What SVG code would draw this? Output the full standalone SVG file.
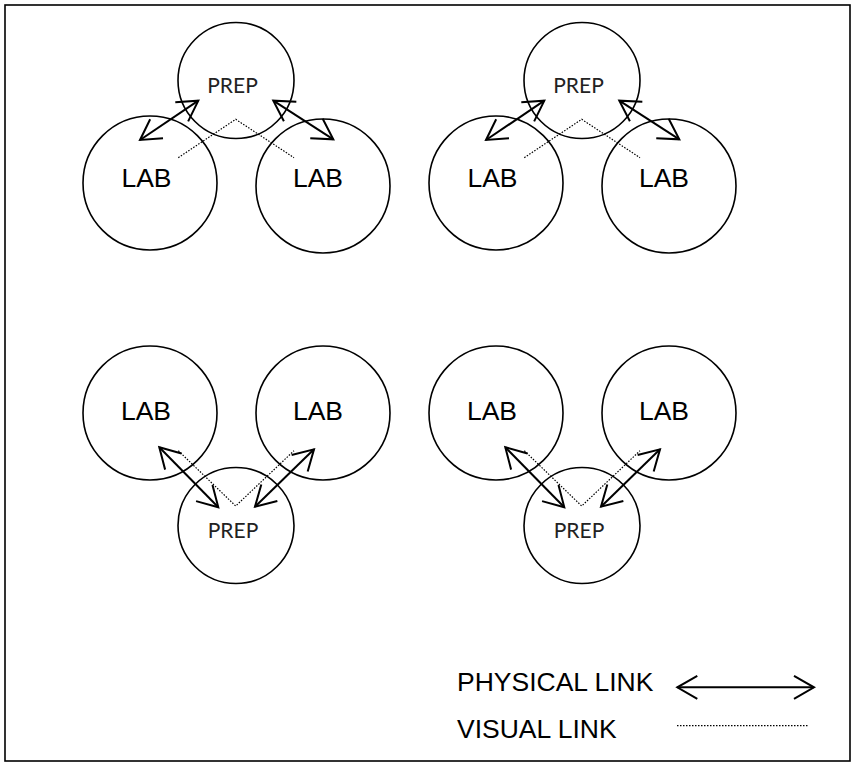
<svg xmlns="http://www.w3.org/2000/svg" width="854" height="765" viewBox="0 0 854 765">
<style>
.node{fill:none;stroke:#000;stroke-width:1.6}
.lab{font-family:"Liberation Sans",Arial,sans-serif;font-size:26.5px;fill:#000;text-anchor:middle}
.prep{font-family:Lato,"Open Sans",sans-serif;font-size:21px;fill:#222;text-anchor:middle}
.leg{font-family:"Liberation Sans",Arial,sans-serif;font-size:26.5px;fill:#000}
.phys{fill:none;stroke:#000;stroke-width:2;marker-start:url(#ah);marker-end:url(#ah)}
.vis{fill:none;stroke:#000;stroke-width:1.2;stroke-dasharray:1.5,1.5}
</style>
<defs>
<marker id="ah" viewBox="0 0 21 24" refX="20" refY="12" markerWidth="21" markerHeight="24" markerUnits="userSpaceOnUse" orient="auto-start-reverse" overflow="visible">
<path d="M0,0.5 L20,12 L0,23.5" fill="none" stroke="#000" stroke-width="2"/>
</marker>
</defs>
<rect x="5" y="5" width="845" height="756" fill="#fff" stroke="#000" stroke-width="1.6"/>

<g id="group-top-left">
<g id="prep1"><circle class="node" cx="236" cy="80.5" r="58"/><text class="prep" x="232.5" y="93">PREP</text></g>
<g id="lab1a"><circle class="node" cx="150" cy="183" r="67"/><text class="lab" x="146.5" y="187">LAB</text></g>
<g id="lab1b"><circle class="node" cx="323" cy="186" r="67"/><text class="lab" x="318" y="187">LAB</text></g>
</g>
<g id="group-top-right">
<g id="prep2"><circle class="node" cx="582" cy="80.5" r="58"/><text class="prep" x="578.5" y="93">PREP</text></g>
<g id="lab2a"><circle class="node" cx="496" cy="183" r="67"/><text class="lab" x="492.5" y="187">LAB</text></g>
<g id="lab2b"><circle class="node" cx="669" cy="186" r="67"/><text class="lab" x="664" y="187">LAB</text></g>
</g>
<g id="group-bottom-left">
<g id="lab3a"><circle class="node" cx="150" cy="413" r="67"/><text class="lab" x="146" y="419.5">LAB</text></g>
<g id="lab3b"><circle class="node" cx="323" cy="413" r="67"/><text class="lab" x="318" y="419.5">LAB</text></g>
<g id="prep3"><circle class="node" cx="236" cy="525.5" r="58"/><text class="prep" x="233" y="537.5">PREP</text></g>
</g>
<g id="group-bottom-right">
<g id="lab4a"><circle class="node" cx="496" cy="413" r="67"/><text class="lab" x="492" y="419.5">LAB</text></g>
<g id="lab4b"><circle class="node" cx="669" cy="413" r="67"/><text class="lab" x="664" y="419.5">LAB</text></g>
<g id="prep4"><circle class="node" cx="582" cy="525.5" r="58"/><text class="prep" x="579" y="537.5">PREP</text></g>
</g>

<g id="connectors">
<line class="phys" x1="140" y1="140" x2="198.3" y2="100.7"/>
<line class="phys" x1="273.3" y1="100.7" x2="333.3" y2="139.3"/>
<polyline class="vis" points="178.3,157.7 235.7,119.3 294,157.7"/>
<line class="phys" x1="486" y1="140" x2="544.3" y2="100.7"/>
<line class="phys" x1="619.3" y1="100.7" x2="679.3" y2="139.3"/>
<polyline class="vis" points="524.3,157.7 581.7,119.3 640,157.7"/>
<line class="phys" x1="159.3" y1="447.3" x2="218.3" y2="507.3"/>
<line class="phys" x1="255" y1="506.7" x2="314" y2="449.3"/>
<polyline class="vis" points="178.3,450.7 235.7,506 294,450.7"/>
<line class="phys" x1="505.3" y1="447.3" x2="564.3" y2="507.3"/>
<line class="phys" x1="601" y1="506.7" x2="660" y2="449.3"/>
<polyline class="vis" points="524.3,450.7 581.7,506 640,450.7"/>
</g>

<g id="legend">
<text class="leg" x="457" y="691">PHYSICAL LINK</text>
<line class="phys" x1="677.3" y1="687.3" x2="814" y2="687.3"/>
<text class="leg" x="457" y="737.5">VISUAL LINK</text>
<line class="vis" x1="677" y1="725.7" x2="809" y2="725.7"/>
</g>
</svg>
